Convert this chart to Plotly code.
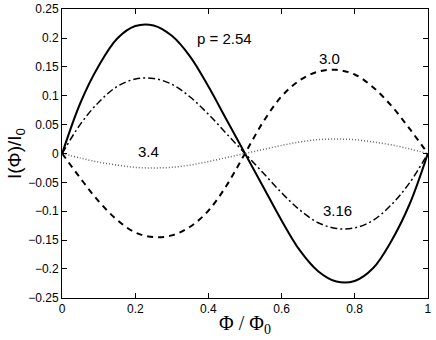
import plotly.graph_objects as go

phi = [0, 0.05, 0.1, 0.15, 0.2, 0.25, 0.3, 0.35, 0.4, 0.45, 0.5,
       0.55, 0.6, 0.65, 0.7, 0.75, 0.8, 0.85, 0.9, 0.95, 1.0]

# p = 2.54 (solid)
i_254 = [0, 0.088, 0.152, 0.199, 0.221, 0.222, 0.204, 0.168, 0.116, 0.058, 0,
         -0.058, -0.116, -0.168, -0.204, -0.222, -0.221, -0.199, -0.152, -0.088, 0]
# p = 3.0 (dashed)
i_300 = [0, -0.043, -0.083, -0.115, -0.137, -0.145, -0.142, -0.127, -0.099, -0.055, 0,
         0.055, 0.099, 0.127, 0.142, 0.145, 0.137, 0.115, 0.083, 0.043, 0]
# p = 3.16 (dash-dot)
i_316 = [0, 0.051, 0.089, 0.116, 0.129, 0.130, 0.120, 0.098, 0.068, 0.034, 0,
         -0.034, -0.068, -0.098, -0.120, -0.130, -0.129, -0.116, -0.089, -0.051, 0]
# p = 3.4 (dotted)
i_340 = [0, -0.008, -0.015, -0.020, -0.024, -0.025, -0.024, -0.020, -0.014, -0.007, 0,
         0.007, 0.014, 0.020, 0.024, 0.025, 0.024, 0.020, 0.015, 0.008, 0]

x_ticks = [0, 0.2, 0.4, 0.6, 0.8, 1]
x_ticktext = ["0", "0.2", "0.4", "0.6", "0.8", "1"]
y_ticks = [0.25, 0.2, 0.15, 0.1, 0.05, 0, -0.05, -0.1, -0.15, -0.2, -0.25]
y_ticktext = ["0.25", "0.2", "0.15", "0.1", "0.05", "0",
              "\u22120.05", "\u22120.1", "\u22120.15", "\u22120.2", "\u22120.25"]

labels = ["p = 2.54", "3.0", "3.16", "3.4"]
label_x = [0.445, 0.73, 0.754, 0.235]
label_y = [0.199, 0.164, -0.099, 0.004]

fig = go.Figure()
fig.add_trace(go.Scatter(x=phi, y=i_254, mode="lines", line=dict(color="black", width=2, shape="spline")))
fig.add_trace(go.Scatter(x=phi, y=i_300, mode="lines", line=dict(color="black", width=2, dash="6px,5px", shape="spline")))
fig.add_trace(go.Scatter(x=phi, y=i_316, mode="lines", line=dict(color="black", width=1.5, dash="7px,3px,2px,3px", shape="spline")))
fig.add_trace(go.Scatter(x=phi, y=i_340, mode="lines", line=dict(color="#666666", width=1.5, dash="1px,2px", shape="spline")))

for t, ax, ay in zip(labels, label_x, label_y):
    fig.add_annotation(x=ax, y=ay, text=t, showarrow=False,
                       font=dict(family="Liberation Sans, Arial", size=15, color="black"))

axis_common = dict(showgrid=False, zeroline=False, showline=True, linecolor="black", linewidth=1,
                   mirror="allticks", ticks="inside", ticklen=5, tickcolor="black", automargin=False,
                   tickfont=dict(family="Liberation Sans, Arial", size=12, color="black"))

fig.update_xaxes(range=[-0.0005, 1.0005], tickvals=x_ticks, ticktext=x_ticktext,
                 title=dict(text="\u03a6 / \u03a6<sub>0</sub>", standoff=0,
                            font=dict(family="Liberation Serif, Times New Roman", size=20, color="black")),
                 **axis_common)
fig.update_yaxes(range=[-0.2505, 0.2505], tickvals=y_ticks, ticktext=y_ticktext,
                 title=dict(text="I(\u03a6)/I<sub>0</sub>", standoff=0,
                            font=dict(family="Liberation Sans, Arial", size=19, color="black")),
                 **axis_common)

fig.update_layout(width=436, height=340, showlegend=False,
                  margin=dict(l=62, r=8, t=9, b=42, autoexpand=False),
                  paper_bgcolor="white", plot_bgcolor="white")

fig.write_html("out.html", config={"displayModeBar": False},
               post_script="document.body.style.margin='0';document.body.style.overflow='hidden';")
